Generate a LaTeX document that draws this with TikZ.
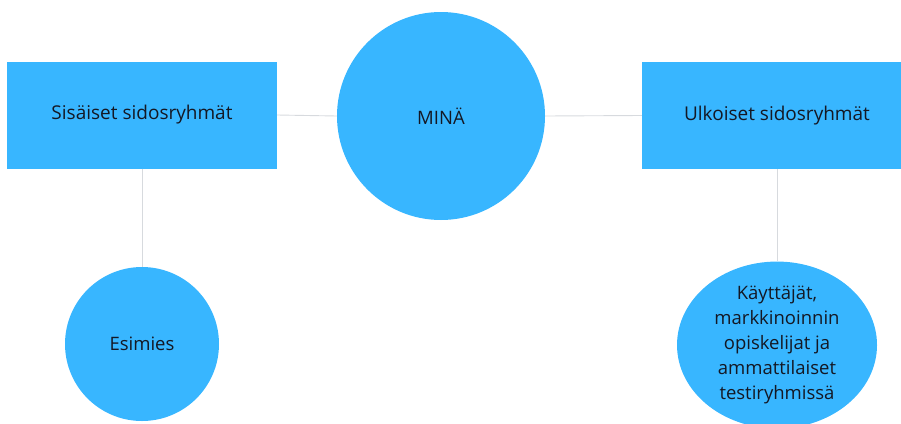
\documentclass[tikz,border=0pt]{standalone}
\usepackage{fontspec}
\setmainfont{Open Sans}
\usetikzlibrary{shapes.geometric}
\definecolor{canvablue}{RGB}{56,182,255}
\definecolor{linegray}{RGB}{215,218,222}
\definecolor{inkdark}{RGB}{20,24,36}
\tikzset{
  groupbox/.style  = {rectangle, fill=canvablue, minimum width=270pt,
                      minimum height=107pt, inner sep=0pt, font=\fontsize{19}{25}\selectfont},
  meball/.style    = {circle, fill=canvablue, minimum size=208pt, inner sep=0pt},
  personball/.style= {circle, fill=canvablue, minimum size=154pt, inner sep=0pt},
  crowd/.style     = {ellipse, fill=canvablue, minimum width=200pt,
                      minimum height=160pt, inner sep=0pt, align=center},
  link/.style      = {draw=linegray, line width=0.9pt},
}

\begin{document}
\begin{tikzpicture}[x=1pt, y=-1pt, every node/.style={font=\fontsize{18.5}{25}\selectfont, text=inkdark}]
  \useasboundingbox (0,0) rectangle (901,423);
  % top row
  \node[groupbox] (sisaiset) at (142,115) {Sisäiset sidosryhmät};
  \node[meball] (mina) at (441,116) {MINÄ};
  \node[groupbox] (ulkoiset) at (777,115.5) {Ulkoiset sidosryhmät};
  % bottom row
  \node[personball] (esimies) at (142,344) {Esimies};
  \node[crowd] (kayttajat) at (777,345) {Käyttäjät,\\markkinoinnin\\opiskelijat ja\\ammattilaiset\\testiryhmissä};
  % connectors
  \draw[link] (sisaiset.east) -- (mina.west);
  \draw[link] (mina.east) -- (ulkoiset.west);
  \draw[link] (sisaiset.south) -- (esimies.north);
  \draw[link] (ulkoiset.south) -- (kayttajat.north);
\end{tikzpicture}
\end{document}
